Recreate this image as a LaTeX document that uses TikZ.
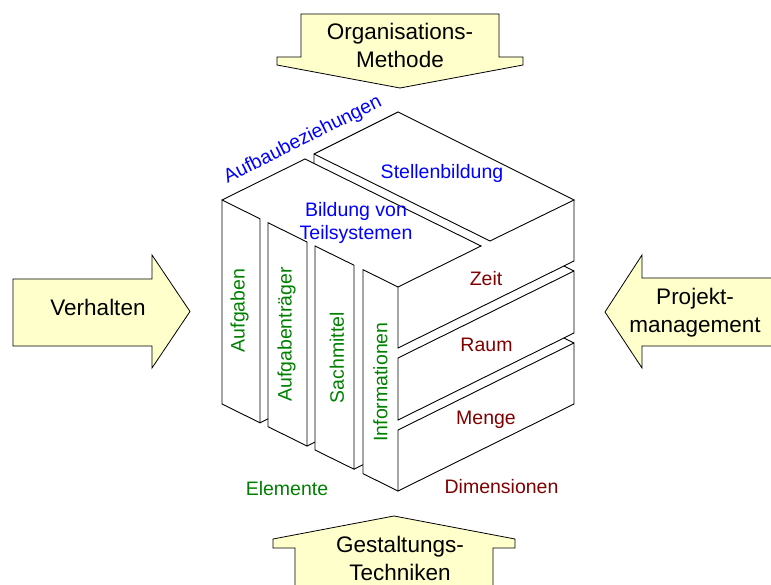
\documentclass[tikz,border=0pt]{standalone}
\usepackage{fontspec}
\setmainfont{Liberation Sans}
\definecolor{arrowfill}{RGB}{255,255,204}
\definecolor{topblue}{RGB}{0,0,255}
\definecolor{elgreen}{RGB}{0,128,0}
\definecolor{dimred}{RGB}{128,0,0}
\begin{document}
\begin{tikzpicture}[x=1pt,y=-1pt,
  bigarrow/.style={fill=arrowfill,draw=black,line width=0.8pt,line join=miter},
  edge/.style={draw=black,line width=0.9pt,line join=miter},
  biglabel/.style={font=\fontsize{22.5}{28}\selectfont,align=center,inner sep=0pt},
  cubelabel/.style={font=\fontsize{19.5}{23}\selectfont,align=center,inner sep=0pt}]
\useasboundingbox (0,0) rectangle (771,585);

% big arrows
\draw[bigarrow] (301,14) -- (499,14) -- (499,57) -- (523,57) -- (523,65) -- (400,88)
  -- (277,65) -- (277,57) -- (301,57) -- cycle;
\draw[bigarrow] (295,595) -- (295,548) -- (273,548) -- (273,539) -- (394,516)
  -- (515,539) -- (515,548) -- (493,548) -- (493,595) -- cycle;
\draw[bigarrow] (13,279) -- (152,279) -- (152,255) -- (190,311.5) -- (152,368)
  -- (152,346) -- (13,346) -- cycle;
\draw[bigarrow] (780,278) -- (642,278) -- (642,255) -- (605,312) -- (642,368)
  -- (642,346) -- (780,346) -- cycle;

\node[biglabel] (om) at (400,45.3) {Organisations-\\Methode};
\node[biglabel,anchor=base] (vh) at (98,316) {Verhalten};
\node[biglabel] (pm) at (695,312.7) {Projekt-\\management};
\node[biglabel] (gt) at (400,558.8) {Gestaltungs-\\Techniken};

% top slabs
\draw[edge] (222,200) -- (305,159) -- (481,246) -- (398,287);
\draw[edge] (314,163.4) -- (314,154) -- (490,241) -- (574,200) -- (398,112) -- (314,154);

% element slabs (left face)
\draw[edge] (222,200) -- (222,404) -- (260,422.8) -- (260,218.8) -- cycle;
\draw[edge] (260,422.8) -- (268,418.8);
\draw[edge] (268,222.7) -- (268,426.7) -- (307,446) -- (307,242) -- cycle;
\draw[edge] (307,446) -- (315,442);
\draw[edge] (315,246) -- (315,450) -- (354,469.2) -- (354,265.2) -- cycle;
\draw[edge] (354,469.2) -- (363,464.7);
\draw[edge] (398,287) -- (363,269.7) -- (363,473.7) -- (398,491);

% dimension slabs (right face)
\draw[edge] (574,200) -- (574,261) -- (398,348) -- (398,287);
\draw[edge] (398,358) -- (574,271) -- (574,333) -- (398,420) -- cycle;
\draw[edge] (574,271) -- (563.9,266);
\draw[edge] (398,430) -- (574,343) -- (574,404) -- (398,491) -- cycle;
\draw[edge] (574,343) -- (563.9,338);

% cube labels
\node[cubelabel,text=topblue,rotate=26.6] (aufbau) at (303,140) {Aufbaubeziehungen};
\node[cubelabel,text=topblue,anchor=base] (stell) at (442,179) {Stellenbildung};
\node[cubelabel,text=topblue] (bild) at (356,222.5) {Bildung von\\Teilsystemen};

\node[cubelabel,text=elgreen,rotate=90] (aufg) at (239.5,310.5) {Aufgaben};
\node[cubelabel,text=elgreen,rotate=90] (aufgt) at (286.5,334.5) {Aufgabenträger};
\node[cubelabel,text=elgreen,rotate=90] (sach) at (337,357.5) {Sachmittel};
\node[cubelabel,text=elgreen,rotate=90] (info) at (380.5,382) {Informationen};
\node[cubelabel,text=elgreen,anchor=base] (elem) at (287,495) {Elemente};

\node[cubelabel,text=dimred,anchor=base] (zeit) at (486,286) {Zeit};
\node[cubelabel,text=dimred,anchor=base] (raum) at (486.5,351) {Raum};
\node[cubelabel,text=dimred,anchor=base] (menge) at (486,424) {Menge};
\node[cubelabel,text=dimred,anchor=base] (dim) at (501.5,493) {Dimensionen};
\end{tikzpicture}
\end{document}
